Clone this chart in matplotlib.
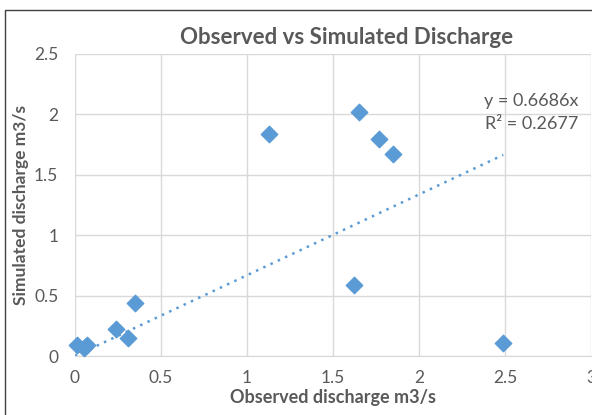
import matplotlib
matplotlib.use("Agg")
import matplotlib.pyplot as plt
from matplotlib.patches import Rectangle
import numpy as np

observed = [0.01, 0.05, 0.07, 0.24, 0.31, 0.35, 1.13, 1.62, 1.65, 1.77, 1.85, 2.49]
simulated = [0.09, 0.07, 0.09, 0.22, 0.15, 0.44, 1.84, 0.59, 2.02, 1.80, 1.67, 0.11]
slope = 0.6686
r2 = 0.2677
x_ticks = [0, 0.5, 1, 1.5, 2, 2.5, 3]
x_tick_labels = ["0", "0.5", "1", "1.5", "2", "2.5", "3"]
y_ticks = [0, 0.5, 1, 1.5, 2, 2.5]
y_tick_labels = ["0", "0.5", "1", "1.5", "2", "2.5"]

plt.rcParams['font.family'] = ['Lato', 'DejaVu Sans']

W, H = 592, 415
fig = plt.figure(figsize=(W / 100, H / 100), dpi=100)
fig.patches.append(Rectangle((5 / W, -0.1), 1.2, (H - 10) / H + 0.1, transform=fig.transFigure,
                             fill=False, edgecolor='#404040', linewidth=1.0))

ax = fig.add_axes([75 / W, (H - 356) / H, 516 / W, 302 / H])
ax.set_xlim(0, 3)
ax.set_ylim(0, 2.5)
ax.grid(True, color='#d9d9d9', linewidth=1.0)
ax.set_axisbelow(True)
for s in ['top', 'right', 'left']:
    ax.spines[s].set_visible(False)
ax.spines['bottom'].set_color('#d9d9d9')
ax.tick_params(length=0, labelsize=12.5, labelcolor='#595959')
ax.tick_params(axis='x', pad=10)
ax.tick_params(axis='y', pad=12)
ax.set_xticks(x_ticks)
ax.set_xticklabels(x_tick_labels)
ax.set_yticks(y_ticks)
ax.set_yticklabels(y_tick_labels)

ax.scatter(observed, simulated, marker='D', s=70, color='#5b9bd5', zorder=3, clip_on=False)

tx = np.array([0, max(observed)])
ax.plot(tx, slope * tx, linestyle=(0, (1, 2.2)), color='#5b9bd5', linewidth=1.8, zorder=2)

ax.text(0.975, 0.805, "y = %.4fx\nR² = %.4f" % (slope, r2), transform=ax.transAxes,
        ha='right', va='center', fontsize=13, color='#595959', linespacing=1.55)

ax.set_title("Observed vs Simulated Discharge", fontsize=16, fontweight='bold',
             color='#595959', pad=7, x=0.527)
ax.set_xlabel("Observed discharge m3/s", fontsize=13, fontweight='bold', color='#595959', labelpad=2)
ax.set_ylabel("Simulated discharge m3/s", fontsize=12.5, fontweight='bold', color='#595959', labelpad=4)

fig.savefig("out.png", dpi=100)
